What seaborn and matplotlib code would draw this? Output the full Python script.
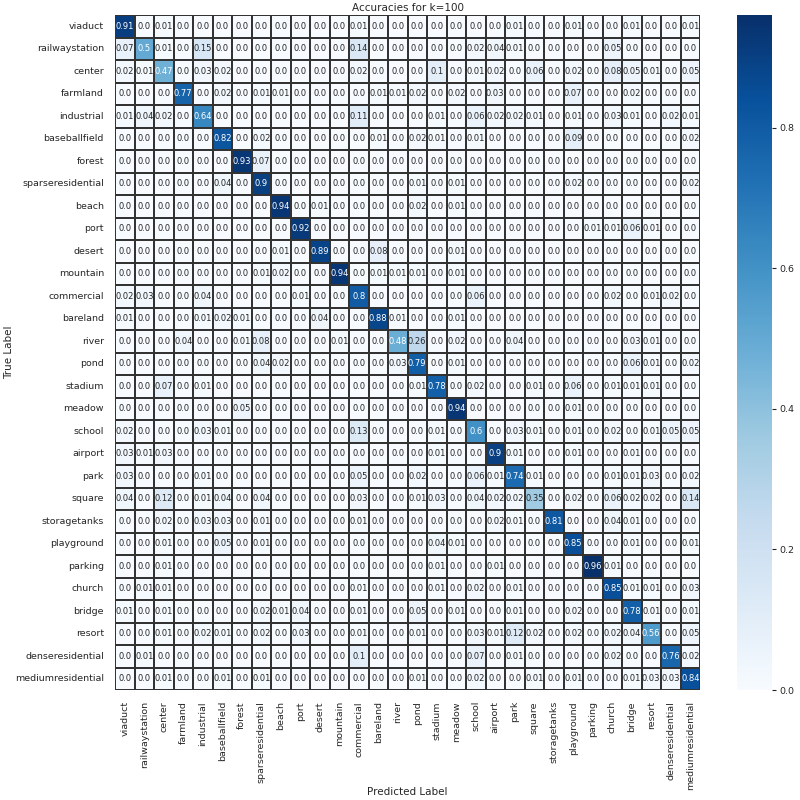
import numpy as np
import pandas as pd
import matplotlib
matplotlib.use("Agg")
import matplotlib.pyplot as plt
import seaborn as sns

classes = ["viaduct", "railwaystation", "center", "farmland", "industrial",
           "baseballfield", "forest", "sparseresidential", "beach", "port",
           "desert", "mountain", "commercial", "bareland", "river", "pond",
           "stadium", "meadow", "school", "airport", "park", "square",
           "storagetanks", "playground", "parking", "church", "bridge",
           "resort", "denseresidential", "mediumresidential"]

row_viaduct = [0.91, 0.0, 0.01, 0.0, 0.0, 0.0, 0.0, 0.0, 0.0, 0.0, 0.0, 0.0, 0.01, 0.0, 0.0, 0.0, 0.0, 0.0, 0.0, 0.0, 0.01, 0.0, 0.0, 0.01, 0.0, 0.0, 0.01, 0.0, 0.0, 0.01]
row_railwaystation = [0.07, 0.5, 0.01, 0.0, 0.15, 0.0, 0.0, 0.0, 0.0, 0.0, 0.0, 0.0, 0.14, 0.0, 0.0, 0.0, 0.0, 0.0, 0.02, 0.04, 0.01, 0.0, 0.0, 0.0, 0.0, 0.05, 0.0, 0.0, 0.0, 0.0]
row_center = [0.02, 0.01, 0.47, 0.0, 0.03, 0.02, 0.0, 0.0, 0.0, 0.0, 0.0, 0.0, 0.02, 0.0, 0.0, 0.0, 0.1, 0.0, 0.01, 0.02, 0.0, 0.06, 0.0, 0.02, 0.0, 0.08, 0.05, 0.01, 0.0, 0.05]
row_farmland = [0.0, 0.0, 0.0, 0.77, 0.0, 0.02, 0.0, 0.01, 0.01, 0.0, 0.0, 0.0, 0.0, 0.01, 0.01, 0.02, 0.0, 0.02, 0.0, 0.03, 0.0, 0.0, 0.0, 0.07, 0.0, 0.0, 0.02, 0.0, 0.0, 0.0]
row_industrial = [0.01, 0.04, 0.02, 0.0, 0.64, 0.0, 0.0, 0.0, 0.0, 0.0, 0.0, 0.0, 0.11, 0.0, 0.0, 0.0, 0.01, 0.0, 0.06, 0.02, 0.02, 0.01, 0.0, 0.01, 0.0, 0.03, 0.01, 0.0, 0.02, 0.01]
row_baseballfield = [0.0, 0.0, 0.0, 0.0, 0.0, 0.82, 0.0, 0.02, 0.0, 0.0, 0.0, 0.0, 0.0, 0.01, 0.0, 0.02, 0.01, 0.0, 0.01, 0.0, 0.0, 0.0, 0.0, 0.09, 0.0, 0.0, 0.0, 0.0, 0.0, 0.02]
row_forest = [0.0, 0.0, 0.0, 0.0, 0.0, 0.0, 0.93, 0.07, 0.0, 0.0, 0.0, 0.0, 0.0, 0.0, 0.0, 0.0, 0.0, 0.0, 0.0, 0.0, 0.0, 0.0, 0.0, 0.0, 0.0, 0.0, 0.0, 0.0, 0.0, 0.0]
row_sparseresidential = [0.0, 0.0, 0.0, 0.0, 0.0, 0.04, 0.0, 0.9, 0.0, 0.0, 0.0, 0.0, 0.0, 0.0, 0.0, 0.01, 0.0, 0.01, 0.0, 0.0, 0.0, 0.0, 0.0, 0.02, 0.0, 0.0, 0.0, 0.0, 0.0, 0.02]
row_beach = [0.0, 0.0, 0.0, 0.0, 0.0, 0.0, 0.0, 0.0, 0.94, 0.0, 0.01, 0.0, 0.0, 0.0, 0.0, 0.02, 0.0, 0.01, 0.0, 0.0, 0.0, 0.0, 0.0, 0.0, 0.0, 0.0, 0.0, 0.0, 0.0, 0.0]
row_port = [0.0, 0.0, 0.0, 0.0, 0.0, 0.0, 0.0, 0.0, 0.0, 0.92, 0.0, 0.0, 0.0, 0.0, 0.0, 0.0, 0.0, 0.0, 0.0, 0.0, 0.0, 0.0, 0.0, 0.0, 0.01, 0.01, 0.06, 0.01, 0.0, 0.0]
row_desert = [0.0, 0.0, 0.0, 0.0, 0.0, 0.0, 0.0, 0.0, 0.01, 0.0, 0.89, 0.0, 0.0, 0.08, 0.0, 0.0, 0.0, 0.01, 0.0, 0.0, 0.0, 0.0, 0.0, 0.0, 0.0, 0.0, 0.0, 0.0, 0.0, 0.0]
row_mountain = [0.0, 0.0, 0.0, 0.0, 0.0, 0.0, 0.0, 0.01, 0.02, 0.0, 0.0, 0.94, 0.0, 0.01, 0.01, 0.01, 0.0, 0.01, 0.0, 0.0, 0.0, 0.0, 0.0, 0.0, 0.0, 0.0, 0.0, 0.0, 0.0, 0.0]
row_commercial = [0.02, 0.03, 0.0, 0.0, 0.04, 0.0, 0.0, 0.0, 0.0, 0.01, 0.0, 0.0, 0.8, 0.0, 0.0, 0.0, 0.0, 0.0, 0.06, 0.0, 0.0, 0.0, 0.0, 0.0, 0.0, 0.02, 0.0, 0.01, 0.02, 0.0]
row_bareland = [0.01, 0.0, 0.0, 0.0, 0.01, 0.02, 0.01, 0.0, 0.0, 0.0, 0.04, 0.0, 0.0, 0.88, 0.01, 0.0, 0.0, 0.01, 0.0, 0.0, 0.0, 0.0, 0.0, 0.0, 0.0, 0.0, 0.0, 0.0, 0.0, 0.0]
row_river = [0.0, 0.0, 0.0, 0.04, 0.0, 0.0, 0.01, 0.08, 0.0, 0.0, 0.0, 0.01, 0.0, 0.0, 0.48, 0.26, 0.0, 0.02, 0.0, 0.0, 0.04, 0.0, 0.0, 0.0, 0.0, 0.0, 0.03, 0.01, 0.0, 0.0]
row_pond = [0.0, 0.0, 0.0, 0.0, 0.0, 0.0, 0.0, 0.04, 0.02, 0.0, 0.0, 0.0, 0.0, 0.0, 0.03, 0.79, 0.0, 0.01, 0.0, 0.0, 0.0, 0.0, 0.0, 0.0, 0.0, 0.0, 0.06, 0.01, 0.0, 0.02]
row_stadium = [0.0, 0.0, 0.07, 0.0, 0.01, 0.0, 0.0, 0.0, 0.0, 0.0, 0.0, 0.0, 0.0, 0.0, 0.0, 0.01, 0.78, 0.0, 0.02, 0.0, 0.0, 0.01, 0.0, 0.06, 0.0, 0.01, 0.01, 0.01, 0.0, 0.0]
row_meadow = [0.0, 0.0, 0.0, 0.0, 0.0, 0.0, 0.05, 0.0, 0.0, 0.0, 0.0, 0.0, 0.0, 0.0, 0.0, 0.0, 0.0, 0.94, 0.0, 0.0, 0.0, 0.0, 0.0, 0.01, 0.0, 0.0, 0.0, 0.0, 0.0, 0.0]
row_school = [0.02, 0.0, 0.0, 0.0, 0.03, 0.01, 0.0, 0.0, 0.0, 0.0, 0.0, 0.0, 0.13, 0.0, 0.0, 0.0, 0.01, 0.0, 0.6, 0.0, 0.03, 0.01, 0.0, 0.01, 0.0, 0.02, 0.0, 0.01, 0.05, 0.05]
row_airport = [0.03, 0.01, 0.03, 0.0, 0.0, 0.0, 0.0, 0.0, 0.0, 0.0, 0.0, 0.0, 0.0, 0.0, 0.0, 0.0, 0.01, 0.0, 0.0, 0.9, 0.01, 0.0, 0.0, 0.01, 0.0, 0.0, 0.01, 0.0, 0.0, 0.0]
row_park = [0.03, 0.0, 0.0, 0.0, 0.01, 0.0, 0.0, 0.0, 0.0, 0.0, 0.0, 0.0, 0.05, 0.0, 0.0, 0.02, 0.0, 0.0, 0.06, 0.01, 0.74, 0.01, 0.0, 0.0, 0.0, 0.01, 0.01, 0.03, 0.0, 0.02]
row_square = [0.04, 0.0, 0.12, 0.0, 0.01, 0.04, 0.0, 0.04, 0.0, 0.0, 0.0, 0.0, 0.03, 0.0, 0.0, 0.01, 0.03, 0.0, 0.04, 0.02, 0.02, 0.35, 0.0, 0.02, 0.0, 0.06, 0.02, 0.02, 0.0, 0.14]
row_storagetanks = [0.0, 0.0, 0.02, 0.0, 0.03, 0.03, 0.0, 0.01, 0.0, 0.0, 0.0, 0.0, 0.01, 0.0, 0.0, 0.0, 0.0, 0.0, 0.0, 0.02, 0.01, 0.0, 0.81, 0.0, 0.0, 0.04, 0.01, 0.0, 0.0, 0.0]
row_playground = [0.0, 0.0, 0.01, 0.0, 0.0, 0.05, 0.0, 0.01, 0.0, 0.0, 0.0, 0.0, 0.0, 0.0, 0.0, 0.0, 0.04, 0.01, 0.0, 0.0, 0.0, 0.0, 0.0, 0.85, 0.0, 0.0, 0.01, 0.0, 0.0, 0.01]
row_parking = [0.0, 0.0, 0.01, 0.0, 0.0, 0.0, 0.0, 0.0, 0.0, 0.0, 0.0, 0.0, 0.0, 0.0, 0.0, 0.0, 0.01, 0.0, 0.0, 0.01, 0.0, 0.0, 0.0, 0.0, 0.96, 0.01, 0.0, 0.0, 0.0, 0.0]
row_church = [0.0, 0.01, 0.01, 0.0, 0.0, 0.0, 0.0, 0.0, 0.0, 0.0, 0.0, 0.0, 0.01, 0.0, 0.0, 0.0, 0.01, 0.0, 0.02, 0.0, 0.01, 0.0, 0.0, 0.0, 0.0, 0.85, 0.01, 0.01, 0.0, 0.03]
row_bridge = [0.01, 0.0, 0.01, 0.0, 0.0, 0.0, 0.0, 0.02, 0.01, 0.04, 0.0, 0.0, 0.01, 0.0, 0.0, 0.05, 0.0, 0.01, 0.0, 0.0, 0.01, 0.0, 0.0, 0.02, 0.0, 0.0, 0.78, 0.01, 0.0, 0.01]
row_resort = [0.0, 0.0, 0.01, 0.0, 0.02, 0.01, 0.0, 0.02, 0.0, 0.03, 0.0, 0.0, 0.01, 0.0, 0.0, 0.01, 0.0, 0.0, 0.03, 0.01, 0.12, 0.02, 0.0, 0.02, 0.0, 0.02, 0.04, 0.56, 0.0, 0.05]
row_denseresidential = [0.0, 0.01, 0.0, 0.0, 0.0, 0.0, 0.0, 0.0, 0.0, 0.0, 0.0, 0.0, 0.1, 0.0, 0.0, 0.0, 0.0, 0.0, 0.07, 0.0, 0.01, 0.0, 0.0, 0.0, 0.0, 0.02, 0.0, 0.0, 0.76, 0.02]
row_mediumresidential = [0.0, 0.0, 0.01, 0.0, 0.0, 0.01, 0.0, 0.01, 0.0, 0.0, 0.0, 0.0, 0.0, 0.0, 0.0, 0.01, 0.0, 0.0, 0.02, 0.0, 0.0, 0.01, 0.0, 0.01, 0.0, 0.0, 0.01, 0.03, 0.03, 0.84]

rows = [row_viaduct, row_railwaystation, row_center, row_farmland, row_industrial,
        row_baseballfield, row_forest, row_sparseresidential, row_beach, row_port,
        row_desert, row_mountain, row_commercial, row_bareland, row_river, row_pond,
        row_stadium, row_meadow, row_school, row_airport, row_park, row_square,
        row_storagetanks, row_playground, row_parking, row_church, row_bridge,
        row_resort, row_denseresidential, row_mediumresidential]

df = pd.DataFrame(rows, index=classes, columns=classes)

sns.set_theme(style="white")
plt.rcParams['font.family'] = ['DejaVu Sans']

fig = plt.figure(figsize=(8, 8), dpi=100)
ax = fig.add_axes([0.14375, 0.1375, 0.73125, 0.84375])
cax = fig.add_axes([0.921, 0.1375, 0.044, 0.84375])

annot_labels = np.array([[str(v) for v in r] for r in rows])
sns.heatmap(df, ax=ax, cbar_ax=cax, cmap="Blues", annot=annot_labels, fmt="",
            annot_kws={"size": 6}, linewidths=0.25, linecolor="#333333",
            vmin=0.0)

ax.set_title("Accuracies for k=100", fontsize=7.5, pad=3)
ax.set_xlabel("Predicted Label", fontsize=7.5)
ax.set_ylabel("True Label", fontsize=7.5)
ax.xaxis.set_label_coords(0.5, -0.143)
ax.yaxis.set_label_coords(-0.172, 0.5)
ax.tick_params(axis="x", labelsize=6.8, rotation=90, pad=2)
ax.tick_params(axis="y", labelsize=6.8, rotation=0, pad=2)
cax.tick_params(labelsize=6.8, length=3, width=0.8, pad=2)

fig.savefig("out.png", dpi=100)
